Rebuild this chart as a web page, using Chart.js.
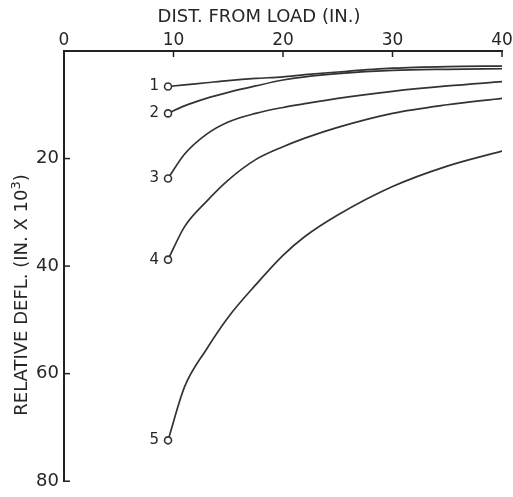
<!DOCTYPE html>
<html>
<head>
<meta charset="utf-8">
<script src="https://cdn.jsdelivr.net/npm/chart.js@4.4.1/dist/chart.umd.min.js"></script>
<style>
html, body { margin: 0; padding: 0; background: #fff; }
#wrap { width: 513px; height: 497px; }
</style>
</head>
<body>
<div id="wrap"><canvas id="deflChart" width="513" height="497"></canvas></div>
<script>
// distance from load (in.) where each curve is read
const distances = [9.5, 11, 13, 15, 17.5, 20, 22, 25, 30, 35, 40];

// relative deflection (in. x 10^3), one list per curve
const curve1 = [6.6, 6.3, 5.9, 5.5, 5.1, 4.8, 4.4, 3.9, 3.2, 2.9, 2.8];
const curve2 = [11.6, 10.2, 8.8, 7.7, 6.5, 5.4, 4.8, 4.2, 3.6, 3.4, 3.3];
const curve3 = [23.7, 19.2, 15.5, 13.2, 11.6, 10.5, 9.8, 8.8, 7.5, 6.5, 5.7];
const curve4 = [38.8, 32.7, 28.0, 24.0, 20.2, 17.8, 16.2, 14.2, 11.6, 10.0, 8.8];
const curve5 = [72.4, 62.5, 55.5, 49.5, 43.5, 38.0, 34.5, 30.5, 25.2, 21.4, 18.6];

const curveLabels = ['1', '2', '3', '4', '5'];
const xTicks = [0, 10, 20, 30, 40];
const yTicks = [0, 20, 40, 60, 80];

const xTitle = 'DIST. FROM LOAD (IN.)';
const yTitle = 'RELATIVE DEFL. (IN. X 10';
const yTitleExp = '3';

const INK = '#262626';
const FONT = '"DejaVu Sans", "Liberation Sans", sans-serif';

function makeSet(values, i) {
    return {
        label: curveLabels[i],
        data: distances.map((d, k) => ({ x: d, y: values[k] })),
        borderColor: '#333',
        borderWidth: 1.7,
        fill: false,
        cubicInterpolationMode: 'monotone',
        pointRadius: distances.map((_, k) => k === 0 ? 3.5 : 0),
        pointBackgroundColor: '#fff',
        pointBorderColor: '#333',
        pointBorderWidth: 1.6,
    };
}

// numbers next to the start circles, inward tick marks, axis titles
const annotations = {
    id: 'annotations',
    afterDraw(chart) {
        const ctx = chart.ctx;
        const area = chart.chartArea;
        const xs = chart.scales.x;
        const ys = chart.scales.y;
        ctx.save();

        ctx.strokeStyle = '#222';
        ctx.lineWidth = 1.5;
        xTicks.forEach(v => {
            if (v === 0) return;
            const px = xs.getPixelForValue(v);
            ctx.beginPath();
            ctx.moveTo(px, area.top);
            ctx.lineTo(px, area.top + 6);
            ctx.stroke();
        });
        yTicks.forEach(v => {
            if (v === 0) return;
            const py = ys.getPixelForValue(v);
            ctx.beginPath();
            ctx.moveTo(area.left, py);
            ctx.lineTo(area.left + 6, py);
            ctx.stroke();
        });

        ctx.fillStyle = INK;
        ctx.font = '15px ' + FONT;
        ctx.textAlign = 'right';
        ctx.textBaseline = 'middle';
        chart.data.datasets.forEach((ds, i) => {
            const pt = chart.getDatasetMeta(i).data[0];
            ctx.fillText(curveLabels[i], pt.x - 9, pt.y);
        });

        ctx.font = '18px ' + FONT;
        ctx.textAlign = 'center';
        ctx.fillText(xTitle, 259, 17);

        ctx.translate(22, 295);
        ctx.rotate(-Math.PI / 2);
        ctx.font = '18px ' + FONT;
        const w1 = ctx.measureText(yTitle).width;
        ctx.font = '13px ' + FONT;
        const w2 = ctx.measureText(yTitleExp).width;
        ctx.font = '18px ' + FONT;
        const w3 = ctx.measureText(')').width;
        let x0 = -(w1 + w2 + w3) / 2;
        ctx.textAlign = 'left';
        ctx.fillText(yTitle, x0, 0);
        ctx.font = '13px ' + FONT;
        ctx.fillText(yTitleExp, x0 + w1, -5);
        ctx.font = '18px ' + FONT;
        ctx.fillText(')', x0 + w1 + w2, 0);
        ctx.restore();
    }
};

const ctx = document.getElementById('deflChart').getContext('2d');
const deflChart = new Chart(ctx, {
    type: 'line',
    data: {
        datasets: [curve1, curve2, curve3, curve4, curve5].map(makeSet),
    },
    options: {
        responsive: false,
        animation: false,
        devicePixelRatio: 1,
        layout: { padding: { top: 0, left: 0, right: 11, bottom: 10 } },
        plugins: {
            legend: { display: false },
            tooltip: { enabled: false },
        },
        scales: {
            x: {
                type: 'linear',
                position: 'top',
                min: 0,
                max: 40,
                afterBuildTicks: s => { s.ticks = xTicks.map(v => ({ value: v })); },
                afterFit: s => { s.height = 51; },
                grid: { display: false, drawTicks: false },
                border: { display: true, color: '#222', width: 2 },
                ticks: {
                    color: INK,
                    padding: 0,
                    maxRotation: 0,
                    font: { family: FONT, size: 17 },
                },
            },
            y: {
                type: 'linear',
                reverse: true,
                min: 0,
                max: 80,
                afterBuildTicks: s => { s.ticks = yTicks.map(v => ({ value: v })); },
                afterFit: s => { s.width = 64; },
                grid: { display: false, drawTicks: false },
                border: { display: true, color: '#222', width: 2 },
                ticks: {
                    color: INK,
                    padding: 5,
                    font: { family: FONT, size: 18 },
                    callback: v => v === 0 ? '' : v,
                },
            },
        },
    },
    plugins: [annotations],
});
</script>
</body>
</html>
